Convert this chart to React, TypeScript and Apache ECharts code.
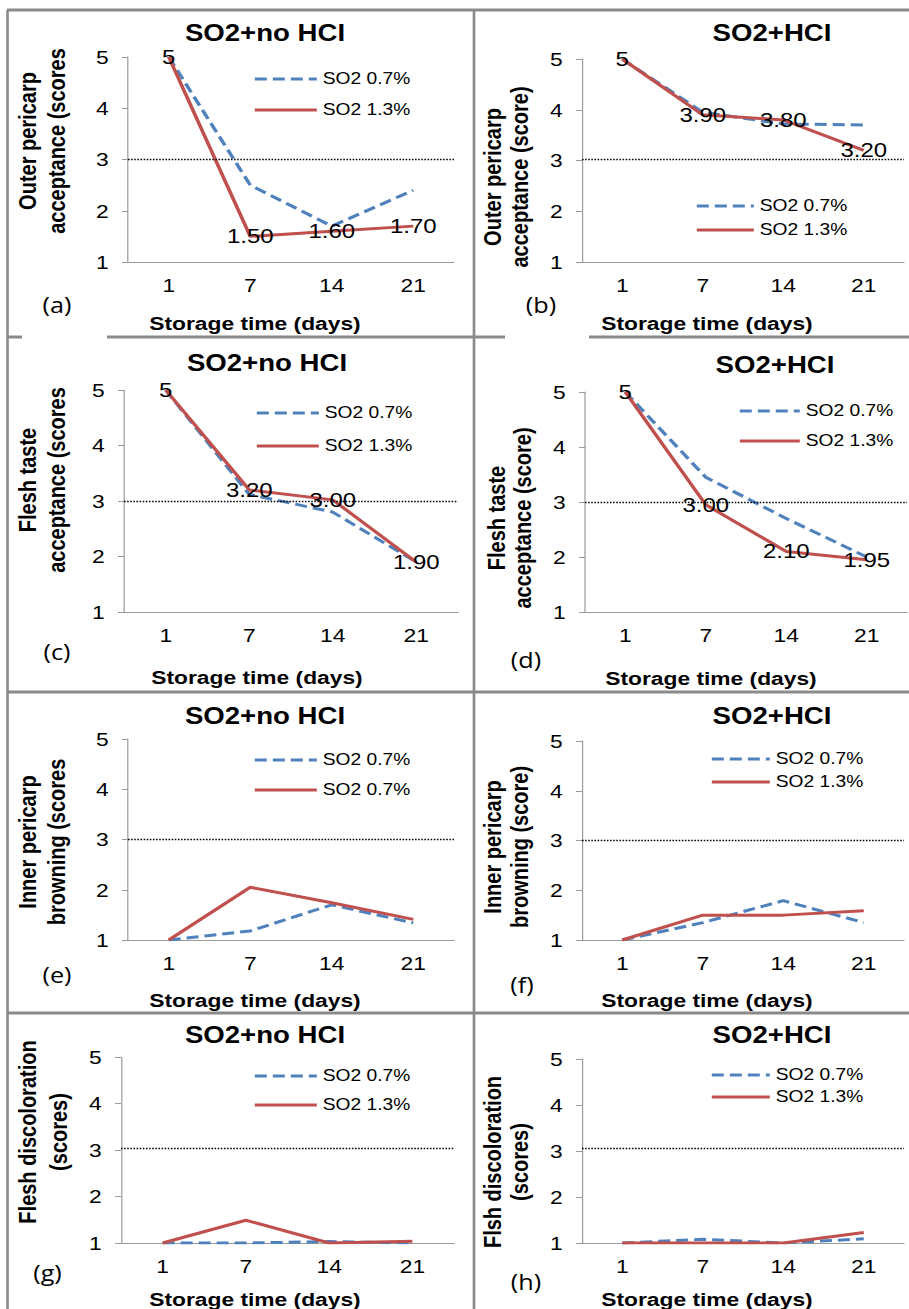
import React, { useEffect, useRef } from "react";
import * as echarts from "echarts";

// ---------- data ----------
const days = ["1", "7", "14", "21"];
const panelTags = ["a", "b", "c", "d", "e", "f", "g", "h"];
const panelTitles = [
  "SO2+no HCI", "SO2+HCI",
  "SO2+no HCI", "SO2+HCI",
  "SO2+no HCI", "SO2+HCI",
  "SO2+no HCI", "SO2+HCI",
];
const yAxisNames = [
  ["Outer pericarp", "acceptance (scores"],
  ["Outer pericarp", "acceptance (score)"],
  ["Flesh taste", "acceptance (scores"],
  ["Flesh taste", "acceptance (score)"],
  ["Inner pericarp", "browning (scores"],
  ["Inner pericarp", "browning (score)"],
  ["Flesh discoloration", "(scores)"],
  ["Flsh discoloration", "(scores)"],
];
const xAxisName = "Storage time (days)";
const legendLabels = [
  ["SO2 0.7%", "SO2 1.3%"],
  ["SO2 0.7%", "SO2 1.3%"],
  ["SO2 0.7%", "SO2 1.3%"],
  ["SO2 0.7%", "SO2 1.3%"],
  ["SO2 0.7%", "SO2 0.7%"],
  ["SO2 0.7%", "SO2 1.3%"],
  ["SO2 0.7%", "SO2 1.3%"],
  ["SO2 0.7%", "SO2 1.3%"],
];

// SO2 0.7% (blue dashed) and SO2 1.3% (red solid)
const lowA = [5, 2.5, 1.7, 2.4];
const highA = [5, 1.5, 1.6, 1.7];
const labelsA = ["5", "1.50", "1.60", "1.70"];

const lowB = [5, 3.95, 3.72, 3.7];
const highB = [5, 3.9, 3.8, 3.2];
const labelsB = ["5", "3.90", "3.80", "3.20"];

const lowC = [5, 3.12, 2.8, 1.9];
const highC = [5, 3.2, 3.02, 1.9];
const labelsC = ["5", "3.20", "3.00", "1.90"];

const lowD = [5, 3.45, 2.7, 2.0];
const highD = [5, 2.95, 2.1, 1.95];
const labelsD = ["5", "3.00", "2.10", "1.95"];

const lowE = [1, 1.18, 1.7, 1.34];
const highE = [1, 2.05, 1.74, 1.41];

const lowF = [1, 1.35, 1.79, 1.35];
const highF = [1, 1.5, 1.5, 1.59];

const lowG = [1, 1.0, 1.03, 1.0];
const highG = [1, 1.49, 1.0, 1.04];

const lowH = [1, 1.08, 1.0, 1.09];
const highH = [1, 1.0, 1.0, 1.23];

const lowSeries = [lowA, lowB, lowC, lowD, lowE, lowF, lowG, lowH];
const highSeries = [highA, highB, highC, highD, highE, highF, highG, highH];
const highLabels: (string[] | null)[] = [labelsA, labelsB, labelsC, labelsD, null, null, null, null];
const thresholds = [3, 3.03, 3, 3, 3, 3, 3.04, 3.07];

// ---------- layout (reference picture pixels) ----------
const W = 909;
const H = 1309;
const SX = 1.2; // the reference is stretched horizontally
const CW = W / SX;

type Layout = {
  gx0: number; gx1: number; gy0: number; gy1: number;
  title: [number, number];
  yName: [number, number, number];
  xName: [number, number];
  tag: [number, number];
  legend: [number, number, number, number];
};

const layouts: Layout[] = [
  { gx0: 128, gx1: 454, gy0: 57, gy1: 262, title: [265, 33], yName: [42.5, 141, 29], xName: [255, 323], tag: [57, 305], legend: [253, 78, 107, 62] },
  { gx0: 582, gx1: 904, gy0: 59, gy1: 262, title: [772, 33], yName: [506.5, 177, 27], xName: [707, 323], tag: [541, 305], legend: [695, 205, 227, 57] },
  { gx0: 124, gx1: 458, gy0: 390, gy1: 612, title: [267, 363], yName: [42.5, 480, 29], xName: [257, 677], tag: [57, 652], legend: [255, 412, 443, 62] },
  { gx0: 585, gx1: 907, gy0: 392, gy1: 612, title: [775, 365], yName: [510, 518, 26], xName: [711, 678], tag: [526, 660], legend: [738, 410, 438, 60] },
  { gx0: 128, gx1: 454, gy0: 739, gy1: 940, title: [265, 716], yName: [42.5, 842, 29], xName: [255, 1000], tag: [57, 975], legend: [253, 759, 787, 62] },
  { gx0: 582, gx1: 904, gy0: 741, gy1: 940, title: [772, 716], yName: [506.5, 847, 27], xName: [707, 1000], tag: [522, 985], legend: [710, 758, 779, 58] },
  { gx0: 121, gx1: 454, gy0: 1057, gy1: 1243, title: [265, 1035], yName: [43.5, 1132, 31], xName: [255, 1299], tag: [47.5, 1273], legend: [253, 1075, 1102, 62] },
  { gx0: 582, gx1: 904, gy0: 1059, gy1: 1243, title: [772, 1035], yName: [506.5, 1162, 27], xName: [707, 1299], tag: [526, 1282], legend: [710, 1074, 1094, 58] },
];

const FONT = "'Liberation Sans', Arial, sans-serif";
const TAG_FONT = "'Open Sans', sans-serif";
const BLUE = "#4F81BD";
const RED = "#C0504D";
const AXIS = "#9a9a9a";
const BORDER = "#8a8a8a";

function buildOption() {
  const grid: any[] = [];
  const xAxis: any[] = [];
  const yAxis: any[] = [];
  const series: any[] = [];
  const legend: any[] = [];
  const title: any[] = [];
  const graphic: any[] = [];
  const nameMap: Record<string, string> = {};

  layouts.forEach((l, i) => {
    const tag = panelTags[i];
    grid.push({
      left: l.gx0 / SX,
      top: l.gy0,
      width: (l.gx1 - l.gx0) / SX,
      height: l.gy1 - l.gy0,
      containLabel: false,
      outerBoundsMode: "none",
    });
    xAxis.push({
      type: "category",
      gridIndex: i,
      data: days,
      boundaryGap: true,
      axisLine: { show: true, lineStyle: { color: AXIS, width: 1 } },
      axisTick: { show: false },
      axisLabel: { fontSize: 19, color: "#000", margin: 14, fontFamily: FONT, interval: 0 },
      splitLine: { show: false },
    });
    yAxis.push({
      type: "value",
      gridIndex: i,
      min: 1,
      max: 5,
      interval: 1,
      axisLine: { show: true, lineStyle: { color: AXIS, width: 1 } },
      axisTick: { show: true, length: 5, lineStyle: { color: AXIS } },
      axisLabel: { fontSize: 19, color: "#000", margin: 16, fontFamily: FONT, showMinLabel: true, showMaxLabel: true },
      splitLine: { show: false },
    });

    const lowName = `${tag}-low`;
    const highName = `${tag}-high`;
    nameMap[lowName] = legendLabels[i][0];
    nameMap[highName] = legendLabels[i][1];

    series.push({
      type: "line",
      name: lowName,
      xAxisIndex: i,
      yAxisIndex: i,
      data: lowSeries[i],
      symbol: "none",
      lineStyle: { color: BLUE, width: 3, type: [10, 5] },
      itemStyle: { color: BLUE },
      emphasis: { disabled: true },
      markLine: {
        silent: true,
        symbol: ["none", "none"],
        label: { show: false },
        lineStyle: { type: "dotted", color: "#000", width: 1.3 },
        data: [{ yAxis: thresholds[i] }],
      },
    });
    const labs = highLabels[i];
    series.push({
      type: "line",
      name: highName,
      xAxisIndex: i,
      yAxisIndex: i,
      data: highSeries[i],
      symbol: labs ? "circle" : "none",
      symbolSize: 0,
      showSymbol: !!labs,
      lineStyle: { color: RED, width: 3 },
      itemStyle: { color: RED },
      emphasis: { disabled: true },
      z: 3,
      label: labs
        ? {
            show: true,
            position: "inside",
            formatter: (p: any) => labs[p.dataIndex],
            fontSize: 20,
            color: "#000",
            fontFamily: FONT,
          }
        : { show: false },
    });

    const ih = 14;
    legend.push({
      orient: "vertical",
      left: l.legend[0] / SX,
      top: l.legend[1] - ih / 2,
      itemWidth: l.legend[3] / SX,
      itemHeight: ih,
      itemGap: l.legend[2] - l.legend[1] - ih,
      padding: 0,
      selectedMode: false,
      data: [lowName, highName],
      formatter: (n: string) => nameMap[n],
      textStyle: { fontSize: 16, color: "#000", fontFamily: FONT },
      lineStyle: { width: 3 },
      itemStyle: { opacity: 0 },
    });

    title.push({
      text: panelTitles[i],
      left: l.title[0] / SX,
      top: l.title[1],
      textAlign: "center",
      textVerticalAlign: "middle",
      padding: 0,
      textStyle: { fontSize: 23, fontWeight: "bold", color: "#000", fontFamily: FONT },
    });

    graphic.push({
      type: "text",
      x: l.yName[0] / SX,
      y: l.yName[1],
      rotation: Math.PI / 2,
      silent: true,
      style: {
        text: yAxisNames[i].join("\n"),
        fontSize: 20,
        fontWeight: "bold",
        fontFamily: FONT,
        fill: "#000",
        align: "center",
        verticalAlign: "middle",
        lineHeight: l.yName[2] / SX,
      },
    });
    graphic.push({
      type: "text",
      x: l.xName[0] / SX,
      y: l.xName[1],
      silent: true,
      style: {
        text: xAxisName,
        fontSize: 19,
        fontWeight: "bold",
        fontFamily: FONT,
        fill: "#000",
        align: "center",
        verticalAlign: "middle",
      },
    });
    graphic.push({
      type: "text",
      x: l.tag[0] / SX,
      y: l.tag[1],
      silent: true,
      style: {
        text: `(${tag})`,
        fontSize: 21,
        fontFamily: TAG_FONT,
        fill: "#000",
        align: "center",
        verticalAlign: "middle",
      },
    });
  });

  // panel frame lines (reference pixels)
  const hLines: [number, number, number][] = [
    [10, 7, W],
    [337, 7, 22],
    [337, 107, 505],
    [337, 589, W],
    [692, 7, W],
    [1013, 7, W],
  ];
  const vLines: [number, number, number][] = [
    [7.5, 10, H],
    [474, 10, H],
  ];
  hLines.forEach(([y, x1, x2]) => {
    graphic.push({
      type: "line",
      silent: true,
      shape: { x1: x1 / SX, y1: y, x2: x2 / SX, y2: y },
      style: { stroke: BORDER, lineWidth: 3 },
    });
  });
  vLines.forEach(([x, y1, y2]) => {
    graphic.push({
      type: "line",
      silent: true,
      shape: { x1: x / SX, y1: y1, x2: x / SX, y2: y2 },
      style: { stroke: BORDER, lineWidth: 2.2 },
    });
  });

  return {
    animation: false,
    backgroundColor: "#ffffff",
    title,
    legend,
    grid,
    xAxis,
    yAxis,
    series,
    graphic,
  };
}

export default function App() {
  const ref = useRef<HTMLDivElement>(null);
  useEffect(() => {
    if (!ref.current) return;
    const chart = echarts.init(ref.current, undefined, { renderer: "svg" });
    chart.setOption(buildOption() as any);
    return () => chart.dispose();
  }, []);
  return (
    <div
      ref={ref}
      style={{
        position: "absolute",
        left: 0,
        top: 0,
        width: CW,
        height: H,
        transform: `scaleX(${SX})`,
        transformOrigin: "0 0",
        background: "#fff",
      }}
    />
  );
}
